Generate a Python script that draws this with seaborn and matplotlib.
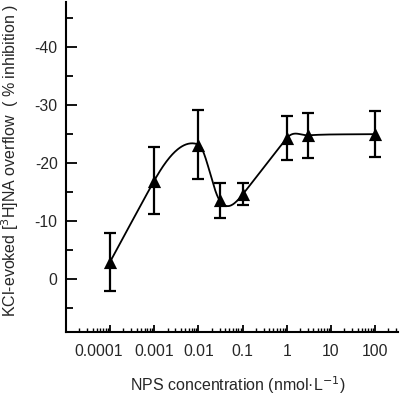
import numpy as np
import pandas as pd
import matplotlib
matplotlib.use('Agg')
import matplotlib.pyplot as plt
import matplotlib.ticker as mticker
import matplotlib.transforms as mtransforms
import seaborn as sns

# NPS concentration (nmol/L), mean % inhibition (plotted negative), SEM
conc = [0.0001, 0.001, 0.01, 0.03, 0.1, 1, 3, 100]
inhibition = [-3.0, -17.0, -23.2, -13.6, -14.6, -24.3, -24.8, -25.0]
sem = [5.0, 5.8, 5.9, 3.0, 1.9, 3.8, 3.9, 4.0]
x_ticks = [0.0001, 0.001, 0.01, 0.1, 1, 10, 100]
x_tick_labels = ['0.0001', '0.001', '0.01', '0.1', '1', '10', '100']
y_ticks = [-40, -30, -20, -10, 0]


def smooth_curve(xk, yk, xs, scale=1.35):
    # cardinal (Catmull-Rom type) cubic Hermite through the points, evaluated at xs
    xk = np.asarray(xk, float)
    yk = np.asarray(yk, float)
    n = len(xk)
    t = np.zeros(n)
    t[0] = (yk[1] - yk[0]) / (xk[1] - xk[0])
    t[-1] = (yk[-1] - yk[-2]) / (xk[-1] - xk[-2])
    t[1:-1] = scale * (yk[2:] - yk[:-2]) / (xk[2:] - xk[:-2])
    idx = np.clip(np.searchsorted(xk, xs) - 1, 0, n - 2)
    h = xk[idx + 1] - xk[idx]
    s = (xs - xk[idx]) / h
    h00 = 2 * s ** 3 - 3 * s ** 2 + 1
    h10 = s ** 3 - 2 * s ** 2 + s
    h01 = -2 * s ** 3 + 3 * s ** 2
    h11 = s ** 3 - s ** 2
    return h00 * yk[idx] + h10 * h * t[idx] + h01 * yk[idx + 1] + h11 * h * t[idx + 1]


sns.set_style('ticks')
plt.rcParams['font.family'] = ['Liberation Sans', 'DejaVu Sans']
plt.rcParams['axes.unicode_minus'] = False

fig = plt.figure(figsize=(4.0, 3.96), dpi=100)
ax = fig.add_axes([0.165, 0.162, 0.83, 0.833])

logc = np.log10(conc)
u = np.linspace(logc[0], logc[-1], 500)
curve = pd.DataFrame({'conc': 10 ** u, 'value': smooth_curve(logc, inhibition, u)})
sns.lineplot(data=curve, x='conc', y='value', color='black', lw=1.3, ax=ax,
             sort=False, estimator=None)

ax.errorbar(conc, inhibition, yerr=sem, fmt='none', ecolor='black',
            elinewidth=1.6, capsize=4, capthick=1.6, zorder=3)
pts = pd.DataFrame({'conc': conc, 'value': inhibition})
sns.scatterplot(data=pts, x='conc', y='value', marker='^', s=90, color='black',
                edgecolor='black', linewidth=0, ax=ax, zorder=4)

ax.set_xscale('log')
ax.set_xlim(1e-5, 330)
ax.set_ylim(9.1, -47.8)
ax.set_xticks(x_ticks)
ax.set_xticklabels(x_tick_labels)
ax.xaxis.set_minor_locator(mticker.LogLocator(base=10, subs=np.arange(2, 10), numticks=20))
ax.xaxis.set_minor_formatter(mticker.NullFormatter())
ax.set_yticks(y_ticks)
ax.yaxis.set_minor_locator(mticker.MultipleLocator(5))

ax.tick_params(axis='both', which='both', direction='in', color='black', labelsize=11.3)
ax.tick_params(axis='x', which='major', length=5, width=1.3, pad=9)
ax.tick_params(axis='x', which='minor', length=3, width=1.0)
ax.tick_params(axis='y', which='major', length=8, width=1.3, pad=6)
ax.tick_params(axis='y', which='minor', length=5, width=1.3)

# the first tick label sits a little to the left in the original
first = ax.get_xticklabels()[0]
first.set_transform(first.get_transform() +
                    mtransforms.ScaledTranslation(-12 / 100, 0, fig.dpi_scale_trans))

for side in ['top', 'right']:
    ax.spines[side].set_visible(False)
for side in ['left', 'bottom']:
    ax.spines[side].set_linewidth(1.5)
    ax.spines[side].set_color('black')

ax.set_xlabel('NPS concentration (nmol\u00b7L$^{-1}$)', fontsize=11.5)
ax.set_ylabel('KCl-evoked [$^{3}$H]NA overflow  ( % inhibition )', fontsize=11.5)
ax.xaxis.set_label_coords(0.518, -0.128)
ax.yaxis.set_label_coords(-0.135, 0.52)

fig.savefig('out.png', dpi=100)
